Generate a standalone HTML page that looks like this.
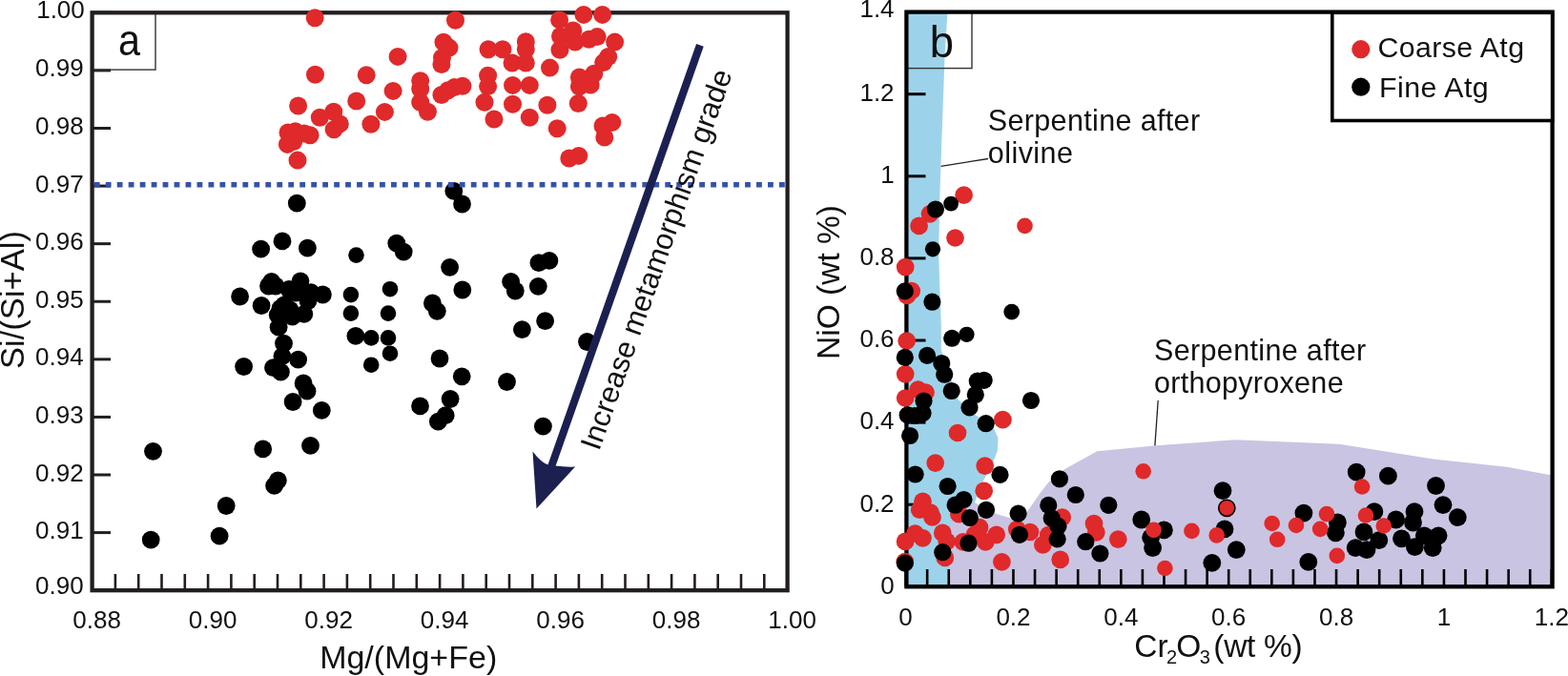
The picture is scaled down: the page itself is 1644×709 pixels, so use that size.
<!DOCTYPE html>
<html><head><meta charset="utf-8"><title>Figure</title>
<style>html,body{margin:0;padding:0;background:#fff;}body{width:1644px;height:709px;overflow:hidden;}svg{display:block;}</style>
</head><body>
<svg width="1644" height="709" viewBox="0 0 1644 709" font-family="'Liberation Sans', Arial, Helvetica, sans-serif">
<rect x="0" y="0" width="1644" height="709" fill="#ffffff"/>
<line x1="96.6" y1="619.20" x2="116" y2="619.20" stroke="#221e1f" stroke-width="3"/>
<line x1="96.6" y1="558.61" x2="116" y2="558.61" stroke="#221e1f" stroke-width="3"/>
<line x1="96.6" y1="498.02" x2="116" y2="498.02" stroke="#221e1f" stroke-width="3"/>
<line x1="96.6" y1="437.43" x2="116" y2="437.43" stroke="#221e1f" stroke-width="3"/>
<line x1="96.6" y1="376.84" x2="116" y2="376.84" stroke="#221e1f" stroke-width="3"/>
<line x1="96.6" y1="316.25" x2="116" y2="316.25" stroke="#221e1f" stroke-width="3"/>
<line x1="96.6" y1="255.66" x2="116" y2="255.66" stroke="#221e1f" stroke-width="3"/>
<line x1="96.6" y1="195.07" x2="116" y2="195.07" stroke="#221e1f" stroke-width="3"/>
<line x1="96.6" y1="134.48" x2="116" y2="134.48" stroke="#221e1f" stroke-width="3"/>
<line x1="96.6" y1="73.89" x2="116" y2="73.89" stroke="#221e1f" stroke-width="3"/>
<line x1="96.6" y1="13.30" x2="116" y2="13.30" stroke="#221e1f" stroke-width="3"/>
<line x1="96.60" y1="602" x2="96.60" y2="619.2" stroke="#221e1f" stroke-width="2.6"/>
<line x1="120.90" y1="602" x2="120.90" y2="619.2" stroke="#221e1f" stroke-width="2.6"/>
<line x1="145.20" y1="602" x2="145.20" y2="619.2" stroke="#221e1f" stroke-width="2.6"/>
<line x1="169.50" y1="602" x2="169.50" y2="619.2" stroke="#221e1f" stroke-width="2.6"/>
<line x1="193.80" y1="602" x2="193.80" y2="619.2" stroke="#221e1f" stroke-width="2.6"/>
<line x1="218.10" y1="602" x2="218.10" y2="619.2" stroke="#221e1f" stroke-width="2.6"/>
<line x1="242.40" y1="602" x2="242.40" y2="619.2" stroke="#221e1f" stroke-width="2.6"/>
<line x1="266.70" y1="602" x2="266.70" y2="619.2" stroke="#221e1f" stroke-width="2.6"/>
<line x1="291.00" y1="602" x2="291.00" y2="619.2" stroke="#221e1f" stroke-width="2.6"/>
<line x1="315.30" y1="602" x2="315.30" y2="619.2" stroke="#221e1f" stroke-width="2.6"/>
<line x1="339.60" y1="602" x2="339.60" y2="619.2" stroke="#221e1f" stroke-width="2.6"/>
<line x1="363.90" y1="602" x2="363.90" y2="619.2" stroke="#221e1f" stroke-width="2.6"/>
<line x1="388.20" y1="602" x2="388.20" y2="619.2" stroke="#221e1f" stroke-width="2.6"/>
<line x1="412.50" y1="602" x2="412.50" y2="619.2" stroke="#221e1f" stroke-width="2.6"/>
<line x1="436.80" y1="602" x2="436.80" y2="619.2" stroke="#221e1f" stroke-width="2.6"/>
<line x1="461.10" y1="602" x2="461.10" y2="619.2" stroke="#221e1f" stroke-width="2.6"/>
<line x1="485.40" y1="602" x2="485.40" y2="619.2" stroke="#221e1f" stroke-width="2.6"/>
<line x1="509.70" y1="602" x2="509.70" y2="619.2" stroke="#221e1f" stroke-width="2.6"/>
<line x1="534.00" y1="602" x2="534.00" y2="619.2" stroke="#221e1f" stroke-width="2.6"/>
<line x1="558.30" y1="602" x2="558.30" y2="619.2" stroke="#221e1f" stroke-width="2.6"/>
<line x1="582.60" y1="602" x2="582.60" y2="619.2" stroke="#221e1f" stroke-width="2.6"/>
<line x1="606.90" y1="602" x2="606.90" y2="619.2" stroke="#221e1f" stroke-width="2.6"/>
<line x1="631.20" y1="602" x2="631.20" y2="619.2" stroke="#221e1f" stroke-width="2.6"/>
<line x1="655.50" y1="602" x2="655.50" y2="619.2" stroke="#221e1f" stroke-width="2.6"/>
<line x1="679.80" y1="602" x2="679.80" y2="619.2" stroke="#221e1f" stroke-width="2.6"/>
<line x1="704.10" y1="602" x2="704.10" y2="619.2" stroke="#221e1f" stroke-width="2.6"/>
<line x1="728.40" y1="602" x2="728.40" y2="619.2" stroke="#221e1f" stroke-width="2.6"/>
<line x1="752.70" y1="602" x2="752.70" y2="619.2" stroke="#221e1f" stroke-width="2.6"/>
<line x1="777.00" y1="602" x2="777.00" y2="619.2" stroke="#221e1f" stroke-width="2.6"/>
<line x1="801.30" y1="602" x2="801.30" y2="619.2" stroke="#221e1f" stroke-width="2.6"/>
<line x1="825.60" y1="602" x2="825.60" y2="619.2" stroke="#221e1f" stroke-width="2.6"/>
<text x="87.6" y="623.00" font-size="26" text-anchor="end" fill="#111">0.90</text>
<text x="87.6" y="565.21" font-size="26" text-anchor="end" fill="#111">0.91</text>
<text x="87.6" y="504.62" font-size="26" text-anchor="end" fill="#111">0.92</text>
<text x="87.6" y="444.03" font-size="26" text-anchor="end" fill="#111">0.93</text>
<text x="87.6" y="383.44" font-size="26" text-anchor="end" fill="#111">0.94</text>
<text x="87.6" y="322.85" font-size="26" text-anchor="end" fill="#111">0.95</text>
<text x="87.6" y="262.26" font-size="26" text-anchor="end" fill="#111">0.96</text>
<text x="87.6" y="201.67" font-size="26" text-anchor="end" fill="#111">0.97</text>
<text x="87.6" y="141.08" font-size="26" text-anchor="end" fill="#111">0.98</text>
<text x="87.6" y="80.49" font-size="26" text-anchor="end" fill="#111">0.99</text>
<text x="88.8" y="18.50" font-size="26" text-anchor="end" fill="#111">1.00</text>
<text x="101.60" y="658.7" font-size="26" text-anchor="middle" fill="#111">0.88</text>
<text x="223.10" y="658.7" font-size="26" text-anchor="middle" fill="#111">0.90</text>
<text x="344.60" y="658.7" font-size="26" text-anchor="middle" fill="#111">0.92</text>
<text x="466.10" y="658.7" font-size="26" text-anchor="middle" fill="#111">0.94</text>
<text x="587.60" y="658.7" font-size="26" text-anchor="middle" fill="#111">0.96</text>
<text x="709.10" y="658.7" font-size="26" text-anchor="middle" fill="#111">0.98</text>
<text x="830.60" y="658.7" font-size="26" text-anchor="middle" fill="#111">1.00</text>
<text x="428.2" y="700.7" font-size="34" text-anchor="middle" fill="#111">Mg/(Mg+Fe)</text>
<text transform="translate(24.8,314.5) rotate(-90)" x="0" y="0" font-size="34.6" text-anchor="middle" fill="#111">Si/(Si+Al)</text>
<rect x="96.6" y="13.3" width="66.4" height="59.8" fill="none" stroke="#333" stroke-width="1.4"/>
<text transform="translate(135.6,57.5) scale(0.9,1)" x="0" y="0" font-size="46" text-anchor="middle" fill="#111">a</text>
<rect x="96.6" y="13.3" width="729.0" height="605.9000000000001" fill="none" stroke="#221e1f" stroke-width="4.3"/>
<circle cx="330.2" cy="18.7" r="9.5" fill="#e0292a"/>
<circle cx="330.5" cy="78.2" r="9.5" fill="#e0292a"/>
<circle cx="384.2" cy="78.7" r="9.5" fill="#e0292a"/>
<circle cx="417.1" cy="59.4" r="9.5" fill="#e0292a"/>
<circle cx="412.1" cy="95.4" r="9.5" fill="#e0292a"/>
<circle cx="373.7" cy="106.0" r="9.5" fill="#e0292a"/>
<circle cx="312.6" cy="111.0" r="9.5" fill="#e0292a"/>
<circle cx="335.3" cy="123.3" r="9.5" fill="#e0292a"/>
<circle cx="349.8" cy="117.2" r="9.5" fill="#e0292a"/>
<circle cx="356.3" cy="129.9" r="9.5" fill="#e0292a"/>
<circle cx="350.1" cy="135.8" r="9.5" fill="#e0292a"/>
<circle cx="403.4" cy="117.4" r="9.5" fill="#e0292a"/>
<circle cx="388.9" cy="130.3" r="9.5" fill="#e0292a"/>
<circle cx="440.7" cy="84.8" r="9.5" fill="#e0292a"/>
<circle cx="440.7" cy="93.3" r="9.5" fill="#e0292a"/>
<circle cx="440.7" cy="107.2" r="9.5" fill="#e0292a"/>
<circle cx="448.4" cy="117.2" r="9.5" fill="#e0292a"/>
<circle cx="465.0" cy="44.2" r="9.5" fill="#e0292a"/>
<circle cx="471.0" cy="50.1" r="9.5" fill="#e0292a"/>
<circle cx="463.5" cy="60.5" r="9.5" fill="#e0292a"/>
<circle cx="462.9" cy="67.6" r="9.5" fill="#e0292a"/>
<circle cx="462.9" cy="99.5" r="9.5" fill="#e0292a"/>
<circle cx="469.7" cy="94.8" r="9.5" fill="#e0292a"/>
<circle cx="476.4" cy="91.6" r="9.5" fill="#e0292a"/>
<circle cx="484.9" cy="90.2" r="9.5" fill="#e0292a"/>
<circle cx="477.5" cy="21.3" r="9.5" fill="#e0292a"/>
<circle cx="302.0" cy="139.0" r="9.5" fill="#e0292a"/>
<circle cx="309.6" cy="137.8" r="9.5" fill="#e0292a"/>
<circle cx="319.0" cy="140.0" r="9.5" fill="#e0292a"/>
<circle cx="325.1" cy="141.8" r="9.5" fill="#e0292a"/>
<circle cx="301.4" cy="151.4" r="9.5" fill="#e0292a"/>
<circle cx="307.7" cy="148.5" r="9.5" fill="#e0292a"/>
<circle cx="312.0" cy="168.1" r="9.5" fill="#e0292a"/>
<circle cx="512.0" cy="51.8" r="9.5" fill="#e0292a"/>
<circle cx="527.0" cy="51.8" r="9.5" fill="#e0292a"/>
<circle cx="551.3" cy="43.8" r="9.5" fill="#e0292a"/>
<circle cx="551.3" cy="51.8" r="9.5" fill="#e0292a"/>
<circle cx="537.0" cy="66.0" r="9.5" fill="#e0292a"/>
<circle cx="551.3" cy="66.0" r="9.5" fill="#e0292a"/>
<circle cx="511.6" cy="79.2" r="9.5" fill="#e0292a"/>
<circle cx="511.6" cy="90.6" r="9.5" fill="#e0292a"/>
<circle cx="508.0" cy="107.3" r="9.5" fill="#e0292a"/>
<circle cx="518.0" cy="125.0" r="9.5" fill="#e0292a"/>
<circle cx="537.5" cy="89.4" r="9.5" fill="#e0292a"/>
<circle cx="555.3" cy="89.4" r="9.5" fill="#e0292a"/>
<circle cx="537.5" cy="109.2" r="9.5" fill="#e0292a"/>
<circle cx="555.3" cy="123.2" r="9.5" fill="#e0292a"/>
<circle cx="576.5" cy="71.1" r="9.5" fill="#e0292a"/>
<circle cx="573.9" cy="110.3" r="9.5" fill="#e0292a"/>
<circle cx="584.2" cy="134.8" r="9.5" fill="#e0292a"/>
<circle cx="586.6" cy="20.9" r="9.5" fill="#e0292a"/>
<circle cx="611.9" cy="15.4" r="9.5" fill="#e0292a"/>
<circle cx="631.6" cy="15.4" r="9.5" fill="#e0292a"/>
<circle cx="587.5" cy="38.0" r="9.5" fill="#e0292a"/>
<circle cx="600.8" cy="32.0" r="9.5" fill="#e0292a"/>
<circle cx="603.0" cy="44.1" r="9.5" fill="#e0292a"/>
<circle cx="587.0" cy="52.3" r="9.5" fill="#e0292a"/>
<circle cx="617.5" cy="41.3" r="9.5" fill="#e0292a"/>
<circle cx="626.1" cy="38.6" r="9.5" fill="#e0292a"/>
<circle cx="644.6" cy="44.1" r="9.5" fill="#e0292a"/>
<circle cx="637.7" cy="59.5" r="9.5" fill="#e0292a"/>
<circle cx="632.7" cy="65.6" r="9.5" fill="#e0292a"/>
<circle cx="622.8" cy="77.2" r="9.5" fill="#e0292a"/>
<circle cx="607.4" cy="81.0" r="9.5" fill="#e0292a"/>
<circle cx="607.4" cy="90.8" r="9.5" fill="#e0292a"/>
<circle cx="619.2" cy="89.0" r="9.5" fill="#e0292a"/>
<circle cx="606.3" cy="108.5" r="9.5" fill="#e0292a"/>
<circle cx="641.8" cy="128.4" r="9.5" fill="#e0292a"/>
<circle cx="632.0" cy="132.0" r="9.5" fill="#e0292a"/>
<circle cx="633.8" cy="144.0" r="9.5" fill="#e0292a"/>
<circle cx="596.8" cy="166.0" r="9.5" fill="#e0292a"/>
<circle cx="606.8" cy="163.4" r="9.5" fill="#e0292a"/>
<circle cx="311.3" cy="213.2" r="9.4" fill="#000000"/>
<circle cx="296.0" cy="252.9" r="9.4" fill="#000000"/>
<circle cx="273.6" cy="261.2" r="9.4" fill="#000000"/>
<circle cx="322.4" cy="260.2" r="9.4" fill="#000000"/>
<circle cx="373.5" cy="267.6" r="8.3" fill="#000000"/>
<circle cx="415.8" cy="255.2" r="9.4" fill="#000000"/>
<circle cx="423.2" cy="264.1" r="9.4" fill="#000000"/>
<circle cx="471.6" cy="280.3" r="9.4" fill="#000000"/>
<circle cx="475.8" cy="200.4" r="9.4" fill="#000000"/>
<circle cx="484.5" cy="214.0" r="9.4" fill="#000000"/>
<circle cx="251.6" cy="311.0" r="9.4" fill="#000000"/>
<circle cx="274.1" cy="320.5" r="9.4" fill="#000000"/>
<circle cx="284.7" cy="295.5" r="9.4" fill="#000000"/>
<circle cx="281.5" cy="300.0" r="9.4" fill="#000000"/>
<circle cx="303.0" cy="303.5" r="9.4" fill="#000000"/>
<circle cx="315.0" cy="294.8" r="9.4" fill="#000000"/>
<circle cx="326.0" cy="306.7" r="9.4" fill="#000000"/>
<circle cx="338.4" cy="309.0" r="9.4" fill="#000000"/>
<circle cx="310.0" cy="307.0" r="9.4" fill="#000000"/>
<circle cx="289.0" cy="300.0" r="9.4" fill="#000000"/>
<circle cx="298.0" cy="320.0" r="9.4" fill="#000000"/>
<circle cx="294.0" cy="323.5" r="9.4" fill="#000000"/>
<circle cx="291.2" cy="330.3" r="9.4" fill="#000000"/>
<circle cx="306.5" cy="332.0" r="9.4" fill="#000000"/>
<circle cx="318.8" cy="329.4" r="9.4" fill="#000000"/>
<circle cx="292.1" cy="343.2" r="9.4" fill="#000000"/>
<circle cx="323.0" cy="315.5" r="9.4" fill="#000000"/>
<circle cx="304.0" cy="325.0" r="9.4" fill="#000000"/>
<circle cx="297.5" cy="360.2" r="9.4" fill="#000000"/>
<circle cx="295.9" cy="373.6" r="9.4" fill="#000000"/>
<circle cx="312.6" cy="377.2" r="9.4" fill="#000000"/>
<circle cx="286.5" cy="385.7" r="9.4" fill="#000000"/>
<circle cx="294.4" cy="390.2" r="9.4" fill="#000000"/>
<circle cx="255.6" cy="384.5" r="9.4" fill="#000000"/>
<circle cx="318.1" cy="402.0" r="9.4" fill="#000000"/>
<circle cx="322.0" cy="410.2" r="9.4" fill="#000000"/>
<circle cx="307.1" cy="421.5" r="9.4" fill="#000000"/>
<circle cx="337.3" cy="430.4" r="9.4" fill="#000000"/>
<circle cx="367.9" cy="309.1" r="8.3" fill="#000000"/>
<circle cx="367.9" cy="328.6" r="8.3" fill="#000000"/>
<circle cx="372.9" cy="352.3" r="9.4" fill="#000000"/>
<circle cx="389.2" cy="354.4" r="8.3" fill="#000000"/>
<circle cx="389.2" cy="382.7" r="8.3" fill="#000000"/>
<circle cx="409.0" cy="303.2" r="8.3" fill="#000000"/>
<circle cx="407.0" cy="328.6" r="8.3" fill="#000000"/>
<circle cx="407.0" cy="354.4" r="8.3" fill="#000000"/>
<circle cx="409.0" cy="370.7" r="8.3" fill="#000000"/>
<circle cx="453.4" cy="318.0" r="9.4" fill="#000000"/>
<circle cx="458.3" cy="326.3" r="9.4" fill="#000000"/>
<circle cx="461.0" cy="376.0" r="9.4" fill="#000000"/>
<circle cx="484.8" cy="304.0" r="9.4" fill="#000000"/>
<circle cx="484.2" cy="394.8" r="9.4" fill="#000000"/>
<circle cx="440.5" cy="425.9" r="9.4" fill="#000000"/>
<circle cx="472.1" cy="418.5" r="9.4" fill="#000000"/>
<circle cx="467.2" cy="435.7" r="9.4" fill="#000000"/>
<circle cx="459.4" cy="442.2" r="9.4" fill="#000000"/>
<circle cx="160.5" cy="473.3" r="9.4" fill="#000000"/>
<circle cx="275.7" cy="470.9" r="9.4" fill="#000000"/>
<circle cx="325.5" cy="467.4" r="9.4" fill="#000000"/>
<circle cx="291.4" cy="503.8" r="9.4" fill="#000000"/>
<circle cx="287.6" cy="509.4" r="9.4" fill="#000000"/>
<circle cx="237.2" cy="530.5" r="9.4" fill="#000000"/>
<circle cx="230.1" cy="562.2" r="9.4" fill="#000000"/>
<circle cx="158.2" cy="566.1" r="9.4" fill="#000000"/>
<circle cx="564.9" cy="275.7" r="9.4" fill="#000000"/>
<circle cx="575.9" cy="273.4" r="9.4" fill="#000000"/>
<circle cx="535.6" cy="295.4" r="9.4" fill="#000000"/>
<circle cx="540.3" cy="305.0" r="9.4" fill="#000000"/>
<circle cx="564.3" cy="300.3" r="9.4" fill="#000000"/>
<circle cx="571.6" cy="336.7" r="9.4" fill="#000000"/>
<circle cx="547.4" cy="345.6" r="9.4" fill="#000000"/>
<circle cx="615.5" cy="358.5" r="9.4" fill="#000000"/>
<circle cx="531.5" cy="400.5" r="9.4" fill="#000000"/>
<circle cx="569.4" cy="447.2" r="9.4" fill="#000000"/>
<line x1="98.8" y1="193.7" x2="824" y2="193.7" stroke="#3452a8" stroke-width="5.5" stroke-dasharray="5.8 6.17"/>
<g fill="#1c2051" stroke="none">
<line x1="733.9" y1="47.3" x2="578.2" y2="489" stroke="#1c2051" stroke-width="8.1"/>
<path d="M562.5,533.4 L558.5,473.5 Q568,486 575,487.5 L582,488.6 Q592,490 603.1,489.6 Z"/>
</g>
<text transform="translate(628.1,473.8) rotate(-70.56)" font-size="31" fill="#111">Increase metamorphism grade</text>
<polygon fill="#c9c4e2" points="1000,522 1022,527 1032,533 1044.5,539 1060,543.6 1076,538 1090,518 1100,505 1115.5,492.5 1150.3,473.3 1212.7,467.2 1295,461.3 1404,465.8 1503,481.4 1580,489.8 1627,498.6 1627,615 985,615"/>
<polygon fill="#9dd3ea" points="950,12 993.5,12 990.5,60 985.5,200 984.2,265 985.6,310 986.8,340 986.8,367 993,385 1005,419.5 1022.8,435.3 1040.6,447 1046.5,459 1045.8,472.8 1040.6,486.6 1029.7,506.4 1022,527 1013,533 999,541 995,559 995.5,594 996,615 950,615"/>
<line x1="950.4" y1="615.30" x2="970.5" y2="615.30" stroke="#000" stroke-width="3"/>
<line x1="950.4" y1="529.20" x2="970.5" y2="529.20" stroke="#000" stroke-width="3"/>
<line x1="950.4" y1="443.10" x2="970.5" y2="443.10" stroke="#000" stroke-width="3"/>
<line x1="950.4" y1="357.00" x2="970.5" y2="357.00" stroke="#000" stroke-width="3"/>
<line x1="950.4" y1="270.90" x2="970.5" y2="270.90" stroke="#000" stroke-width="3"/>
<line x1="950.4" y1="184.80" x2="970.5" y2="184.80" stroke="#000" stroke-width="3"/>
<line x1="950.4" y1="98.70" x2="970.5" y2="98.70" stroke="#000" stroke-width="3"/>
<line x1="950.4" y1="12.60" x2="970.5" y2="12.60" stroke="#000" stroke-width="3"/>
<line x1="949.60" y1="597" x2="949.60" y2="615.3" stroke="#000" stroke-width="2.6"/>
<line x1="972.17" y1="597" x2="972.17" y2="615.3" stroke="#000" stroke-width="2.6"/>
<line x1="994.75" y1="597" x2="994.75" y2="615.3" stroke="#000" stroke-width="2.6"/>
<line x1="1017.32" y1="597" x2="1017.32" y2="615.3" stroke="#000" stroke-width="2.6"/>
<line x1="1039.89" y1="597" x2="1039.89" y2="615.3" stroke="#000" stroke-width="2.6"/>
<line x1="1062.47" y1="597" x2="1062.47" y2="615.3" stroke="#000" stroke-width="2.6"/>
<line x1="1085.04" y1="597" x2="1085.04" y2="615.3" stroke="#000" stroke-width="2.6"/>
<line x1="1107.61" y1="597" x2="1107.61" y2="615.3" stroke="#000" stroke-width="2.6"/>
<line x1="1130.18" y1="597" x2="1130.18" y2="615.3" stroke="#000" stroke-width="2.6"/>
<line x1="1152.76" y1="597" x2="1152.76" y2="615.3" stroke="#000" stroke-width="2.6"/>
<line x1="1175.33" y1="597" x2="1175.33" y2="615.3" stroke="#000" stroke-width="2.6"/>
<line x1="1197.90" y1="597" x2="1197.90" y2="615.3" stroke="#000" stroke-width="2.6"/>
<line x1="1220.48" y1="597" x2="1220.48" y2="615.3" stroke="#000" stroke-width="2.6"/>
<line x1="1243.05" y1="597" x2="1243.05" y2="615.3" stroke="#000" stroke-width="2.6"/>
<line x1="1265.62" y1="597" x2="1265.62" y2="615.3" stroke="#000" stroke-width="2.6"/>
<line x1="1288.20" y1="597" x2="1288.20" y2="615.3" stroke="#000" stroke-width="2.6"/>
<line x1="1310.77" y1="597" x2="1310.77" y2="615.3" stroke="#000" stroke-width="2.6"/>
<line x1="1333.34" y1="597" x2="1333.34" y2="615.3" stroke="#000" stroke-width="2.6"/>
<line x1="1355.91" y1="597" x2="1355.91" y2="615.3" stroke="#000" stroke-width="2.6"/>
<line x1="1378.49" y1="597" x2="1378.49" y2="615.3" stroke="#000" stroke-width="2.6"/>
<line x1="1401.06" y1="597" x2="1401.06" y2="615.3" stroke="#000" stroke-width="2.6"/>
<line x1="1423.63" y1="597" x2="1423.63" y2="615.3" stroke="#000" stroke-width="2.6"/>
<line x1="1446.21" y1="597" x2="1446.21" y2="615.3" stroke="#000" stroke-width="2.6"/>
<line x1="1468.78" y1="597" x2="1468.78" y2="615.3" stroke="#000" stroke-width="2.6"/>
<line x1="1491.35" y1="597" x2="1491.35" y2="615.3" stroke="#000" stroke-width="2.6"/>
<line x1="1513.93" y1="597" x2="1513.93" y2="615.3" stroke="#000" stroke-width="2.6"/>
<line x1="1536.50" y1="597" x2="1536.50" y2="615.3" stroke="#000" stroke-width="2.6"/>
<line x1="1559.07" y1="597" x2="1559.07" y2="615.3" stroke="#000" stroke-width="2.6"/>
<line x1="1581.64" y1="597" x2="1581.64" y2="615.3" stroke="#000" stroke-width="2.6"/>
<line x1="1604.22" y1="597" x2="1604.22" y2="615.3" stroke="#000" stroke-width="2.6"/>
<line x1="1626.79" y1="597" x2="1626.79" y2="615.3" stroke="#000" stroke-width="2.6"/>
<text x="937.6" y="622.60" font-size="26" text-anchor="end" fill="#111">0</text>
<text x="937.6" y="536.50" font-size="26" text-anchor="end" fill="#111">0.2</text>
<text x="937.6" y="450.40" font-size="26" text-anchor="end" fill="#111">0.4</text>
<text x="937.6" y="364.30" font-size="26" text-anchor="end" fill="#111">0.6</text>
<text x="937.6" y="278.20" font-size="26" text-anchor="end" fill="#111">0.8</text>
<text x="937.6" y="192.10" font-size="26" text-anchor="end" fill="#111">1</text>
<text x="937.6" y="106.00" font-size="26" text-anchor="end" fill="#111">1.2</text>
<text x="937.6" y="18.40" font-size="26" text-anchor="end" fill="#111">1.4</text>
<text x="949.60" y="656" font-size="26" text-anchor="middle" fill="#111">0</text>
<text x="1062.47" y="656" font-size="26" text-anchor="middle" fill="#111">0.2</text>
<text x="1175.33" y="656" font-size="26" text-anchor="middle" fill="#111">0.4</text>
<text x="1288.20" y="656" font-size="26" text-anchor="middle" fill="#111">0.6</text>
<text x="1401.06" y="656" font-size="26" text-anchor="middle" fill="#111">0.8</text>
<text x="1513.93" y="656" font-size="26" text-anchor="middle" fill="#111">1</text>
<text x="1626.79" y="656" font-size="26" text-anchor="middle" fill="#111">1.2</text>
<text y="689" font-size="33.5" fill="#111"><tspan x="1189.3">Cr</tspan><tspan x="1223" y="696" font-size="20">2</tspan><tspan x="1233.3" y="689">O</tspan><tspan x="1257.8" y="696" font-size="20">3</tspan><tspan x="1272.3" y="689" letter-spacing="-0.3">(wt %)</tspan></text>
<text transform="translate(880,296) rotate(-90)" font-size="33.5" text-anchor="middle" fill="#111">NiO (wt %)</text>
<rect x="950.4" y="12.6" width="68.6" height="59" fill="none" stroke="#333" stroke-width="1.4"/>
<text x="987.3" y="60" font-size="45.3" text-anchor="middle" fill="#111">b</text>
<text x="1035.8" y="137.3" font-size="30.5" letter-spacing="0.35" fill="#111">Serpentine after</text>
<text x="1035.8" y="171.2" font-size="30.5" letter-spacing="0.45" fill="#111">olivine</text>
<line x1="986.6" y1="174.4" x2="1036" y2="166.5" stroke="#222" stroke-width="1.3"/>
<text x="1210" y="378" font-size="30.5" letter-spacing="0.35" fill="#111">Serpentine after</text>
<text x="1210" y="412" font-size="30.5" letter-spacing="0.3" fill="#111">orthopyroxene</text>
<line x1="1214.2" y1="420" x2="1210.9" y2="467.4" stroke="#222" stroke-width="1.3"/>
<rect x="950.4" y="12.6" width="677.1999999999999" height="602.6999999999999" fill="none" stroke="#000" stroke-width="4.3"/>
<circle cx="1010.6" cy="204.7" r="9.35" fill="#e0292a"/>
<circle cx="975.0" cy="224.4" r="9.35" fill="#e0292a"/>
<circle cx="963.6" cy="236.9" r="9.35" fill="#e0292a"/>
<circle cx="1001.5" cy="249.5" r="9.35" fill="#e0292a"/>
<circle cx="949.2" cy="280.1" r="9.35" fill="#e0292a"/>
<circle cx="955.7" cy="305.0" r="9.35" fill="#e0292a"/>
<circle cx="951.0" cy="310.0" r="9.35" fill="#e0292a"/>
<circle cx="950.7" cy="357.5" r="9.35" fill="#e0292a"/>
<circle cx="949.2" cy="392.3" r="9.35" fill="#e0292a"/>
<circle cx="962.6" cy="408.6" r="9.35" fill="#e0292a"/>
<circle cx="970.5" cy="411.6" r="9.35" fill="#e0292a"/>
<circle cx="949.2" cy="417.5" r="9.35" fill="#e0292a"/>
<circle cx="1051.4" cy="440.2" r="9.35" fill="#e0292a"/>
<circle cx="1004.0" cy="454.0" r="9.35" fill="#e0292a"/>
<circle cx="980.7" cy="485.6" r="9.35" fill="#e0292a"/>
<circle cx="1032.7" cy="488.6" r="9.35" fill="#e0292a"/>
<circle cx="1031.7" cy="514.8" r="9.35" fill="#e0292a"/>
<circle cx="967.5" cy="525.8" r="9.35" fill="#e0292a"/>
<circle cx="964.2" cy="534.7" r="9.35" fill="#e0292a"/>
<circle cx="975.5" cy="537.5" r="9.35" fill="#e0292a"/>
<circle cx="977.5" cy="542.5" r="9.35" fill="#e0292a"/>
<circle cx="1005.4" cy="539.2" r="9.35" fill="#e0292a"/>
<circle cx="1113.7" cy="542.6" r="9.35" fill="#e0292a"/>
<circle cx="1099.3" cy="561.2" r="9.35" fill="#e0292a"/>
<circle cx="1093.4" cy="571.4" r="9.35" fill="#e0292a"/>
<circle cx="1111.7" cy="586.9" r="9.35" fill="#e0292a"/>
<circle cx="1080.0" cy="558.0" r="9.35" fill="#e0292a"/>
<circle cx="1066.3" cy="555.1" r="9.35" fill="#e0292a"/>
<circle cx="1050.4" cy="589.3" r="9.35" fill="#e0292a"/>
<circle cx="1044.7" cy="560.8" r="9.35" fill="#e0292a"/>
<circle cx="1027.0" cy="553.2" r="9.35" fill="#e0292a"/>
<circle cx="1033.3" cy="568.4" r="9.35" fill="#e0292a"/>
<circle cx="1021.9" cy="560.8" r="9.35" fill="#e0292a"/>
<circle cx="1009.8" cy="568.4" r="9.35" fill="#e0292a"/>
<circle cx="988.3" cy="558.9" r="9.35" fill="#e0292a"/>
<circle cx="992.7" cy="567.8" r="9.35" fill="#e0292a"/>
<circle cx="990.8" cy="584.9" r="9.35" fill="#e0292a"/>
<circle cx="967.5" cy="564.3" r="9.35" fill="#e0292a"/>
<circle cx="959.5" cy="559.5" r="9.35" fill="#e0292a"/>
<circle cx="949.1" cy="567.9" r="9.35" fill="#e0292a"/>
<circle cx="948.8" cy="589.0" r="9.35" fill="#e0292a"/>
<circle cx="1147.0" cy="549.2" r="9.35" fill="#e0292a"/>
<circle cx="1149.3" cy="558.3" r="9.35" fill="#e0292a"/>
<circle cx="1172.3" cy="565.6" r="9.35" fill="#e0292a"/>
<circle cx="997.1" cy="213.6" r="7.9" fill="#000000"/>
<circle cx="980.9" cy="219.5" r="9.1" fill="#000000"/>
<circle cx="978.0" cy="261.3" r="8.1" fill="#000000"/>
<circle cx="948.8" cy="305.4" r="9.1" fill="#000000"/>
<circle cx="977.4" cy="316.7" r="9.1" fill="#000000"/>
<circle cx="1060.7" cy="327.1" r="8.4" fill="#000000"/>
<circle cx="998.1" cy="354.8" r="9.0" fill="#000000"/>
<circle cx="1013.5" cy="350.8" r="8.1" fill="#000000"/>
<circle cx="948.8" cy="374.9" r="9.1" fill="#000000"/>
<circle cx="972.1" cy="372.9" r="9.1" fill="#000000"/>
<circle cx="987.3" cy="381.0" r="9.1" fill="#000000"/>
<circle cx="990.2" cy="392.7" r="9.1" fill="#000000"/>
<circle cx="997.7" cy="410.0" r="9.1" fill="#000000"/>
<circle cx="1024.8" cy="399.7" r="9.1" fill="#000000"/>
<circle cx="1031.7" cy="398.8" r="9.1" fill="#000000"/>
<circle cx="1022.8" cy="414.0" r="9.1" fill="#000000"/>
<circle cx="1081.0" cy="420.0" r="9.1" fill="#000000"/>
<circle cx="968.5" cy="420.5" r="9.1" fill="#000000"/>
<circle cx="1016.5" cy="427.4" r="9.1" fill="#000000"/>
<circle cx="951.7" cy="435.3" r="9.1" fill="#000000"/>
<circle cx="967.5" cy="433.3" r="9.1" fill="#000000"/>
<circle cx="959.0" cy="436.0" r="9.1" fill="#000000"/>
<circle cx="954.1" cy="457.0" r="9.1" fill="#000000"/>
<circle cx="1033.7" cy="444.2" r="9.1" fill="#000000"/>
<circle cx="1048.5" cy="497.9" r="9.1" fill="#000000"/>
<circle cx="959.6" cy="497.5" r="9.1" fill="#000000"/>
<circle cx="993.6" cy="510.0" r="9.1" fill="#000000"/>
<circle cx="1010.5" cy="524.0" r="9.1" fill="#000000"/>
<circle cx="1001.6" cy="529.7" r="9.1" fill="#000000"/>
<circle cx="1016.8" cy="543.0" r="9.1" fill="#000000"/>
<circle cx="1034.0" cy="534.8" r="9.1" fill="#000000"/>
<circle cx="1067.6" cy="538.6" r="9.1" fill="#000000"/>
<circle cx="1068.9" cy="560.8" r="9.1" fill="#000000"/>
<circle cx="1015.5" cy="569.7" r="9.1" fill="#000000"/>
<circle cx="988.3" cy="579.2" r="9.1" fill="#000000"/>
<circle cx="948.8" cy="590.6" r="9.1" fill="#000000"/>
<circle cx="1110.9" cy="502.3" r="9.1" fill="#000000"/>
<circle cx="1127.8" cy="519.0" r="9.1" fill="#000000"/>
<circle cx="1099.3" cy="529.9" r="9.1" fill="#000000"/>
<circle cx="1102.7" cy="543.5" r="9.1" fill="#000000"/>
<circle cx="1109.5" cy="551.9" r="9.1" fill="#000000"/>
<circle cx="1108.6" cy="565.4" r="9.1" fill="#000000"/>
<circle cx="1162.3" cy="529.8" r="9.1" fill="#000000"/>
<circle cx="1138.3" cy="568.2" r="9.1" fill="#000000"/>
<circle cx="1153.4" cy="580.5" r="9.1" fill="#000000"/>
<circle cx="1196.7" cy="545.0" r="9.4" fill="#000000"/>
<circle cx="1220.4" cy="555.9" r="9.4" fill="#000000"/>
<circle cx="1206.6" cy="563.8" r="9.4" fill="#000000"/>
<circle cx="1208.6" cy="574.6" r="9.4" fill="#000000"/>
<circle cx="1282.0" cy="514.7" r="9.4" fill="#000000"/>
<circle cx="1284.0" cy="554.9" r="9.4" fill="#000000"/>
<circle cx="1270.8" cy="590.4" r="9.4" fill="#000000"/>
<circle cx="1296.3" cy="576.6" r="9.4" fill="#000000"/>
<circle cx="1366.9" cy="538.1" r="9.4" fill="#000000"/>
<circle cx="1371.8" cy="589.4" r="9.4" fill="#000000"/>
<circle cx="1402.4" cy="548.0" r="9.4" fill="#000000"/>
<circle cx="1400.4" cy="558.8" r="9.4" fill="#000000"/>
<circle cx="1422.2" cy="495.1" r="9.4" fill="#000000"/>
<circle cx="1455.4" cy="499.2" r="9.4" fill="#000000"/>
<circle cx="1440.9" cy="536.7" r="9.4" fill="#000000"/>
<circle cx="1430.0" cy="557.9" r="9.4" fill="#000000"/>
<circle cx="1421.2" cy="574.6" r="9.4" fill="#000000"/>
<circle cx="1433.0" cy="576.6" r="9.4" fill="#000000"/>
<circle cx="1445.8" cy="566.7" r="9.4" fill="#000000"/>
<circle cx="1463.6" cy="545.0" r="9.4" fill="#000000"/>
<circle cx="1469.5" cy="564.8" r="9.4" fill="#000000"/>
<circle cx="1483.0" cy="536.7" r="9.4" fill="#000000"/>
<circle cx="1481.5" cy="548.0" r="9.4" fill="#000000"/>
<circle cx="1493.3" cy="561.8" r="9.4" fill="#000000"/>
<circle cx="1508.1" cy="561.8" r="9.4" fill="#000000"/>
<circle cx="1483.4" cy="573.7" r="9.4" fill="#000000"/>
<circle cx="1502.2" cy="574.6" r="9.4" fill="#000000"/>
<circle cx="1505.5" cy="509.5" r="9.4" fill="#000000"/>
<circle cx="1513.0" cy="529.6" r="9.4" fill="#000000"/>
<circle cx="1528.3" cy="542.7" r="9.4" fill="#000000"/>
<circle cx="1074.5" cy="236.9" r="8.3" fill="#e0292a"/>
<circle cx="1198.7" cy="494.3" r="8.3" fill="#e0292a"/>
<circle cx="1209.6" cy="555.9" r="8.3" fill="#e0292a"/>
<circle cx="1221.4" cy="596.0" r="8.3" fill="#e0292a"/>
<circle cx="1249.5" cy="556.9" r="8.3" fill="#e0292a"/>
<circle cx="1275.7" cy="561.4" r="8.3" fill="#e0292a"/>
<circle cx="1333.7" cy="549.0" r="8.3" fill="#e0292a"/>
<circle cx="1339.2" cy="565.8" r="8.3" fill="#e0292a"/>
<circle cx="1359.0" cy="551.0" r="8.3" fill="#e0292a"/>
<circle cx="1391.0" cy="539.1" r="8.3" fill="#e0292a"/>
<circle cx="1384.2" cy="554.9" r="8.3" fill="#e0292a"/>
<circle cx="1401.8" cy="582.9" r="8.3" fill="#e0292a"/>
<circle cx="1428.1" cy="510.5" r="8.3" fill="#e0292a"/>
<circle cx="1432.0" cy="540.5" r="8.3" fill="#e0292a"/>
<circle cx="1450.8" cy="551.5" r="8.3" fill="#e0292a"/>
<circle cx="1286.3" cy="532.8" r="8.6" fill="#e0292a" stroke="#000" stroke-width="1.6"/>
<rect x="1396.8" y="13.3" width="230.79999999999995" height="113.2" fill="#fff" stroke="#000" stroke-width="3.6"/>
<circle cx="1426.8" cy="51.7" r="9.6" fill="#e0292a"/>
<circle cx="1426.8" cy="91.2" r="9.6" fill="#000000"/>
<text x="1444.5" y="59.8" font-size="30.3" letter-spacing="0.4" fill="#111">Coarse Atg</text>
<text x="1446" y="101.7" font-size="30.3" letter-spacing="0.5" fill="#111">Fine Atg</text>
</svg>
</body></html>
